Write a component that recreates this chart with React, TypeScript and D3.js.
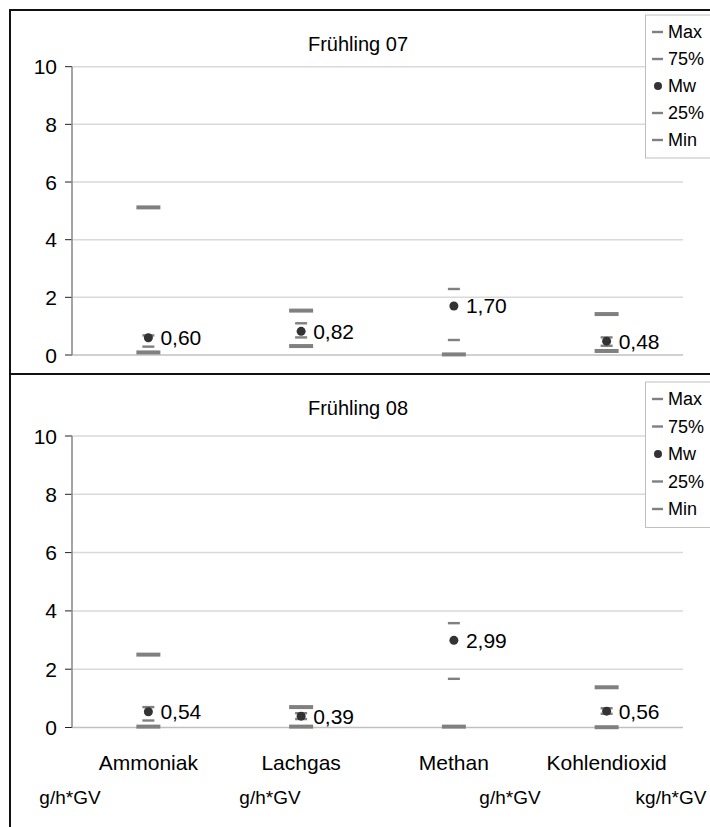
import React from "react";
import * as d3 from "d3";

const categories = ["Ammoniak", "Lachgas", "Methan", "Kohlendioxid"];
const units = ["g/h*GV", "g/h*GV", "g/h*GV", "kg/h*GV"];
const yTicks = [0, 2, 4, 6, 8, 10];
const legendItems = ["Max", "75%", "Mw", "25%", "Min"];

const max07 = [5.12, 1.54, null, 1.42];
const q75_07 = [0.68, 1.1, 2.29, 0.61];
const mw07 = [0.6, 0.82, 1.7, 0.48];
const q25_07 = [0.29, 0.61, 0.52, 0.32];
const min07 = [0.09, 0.31, 0.02, 0.14];

const max08 = [2.5, 0.7, null, 1.38];
const q75_08 = [0.7, 0.49, 3.58, 0.66];
const mw08 = [0.54, 0.39, 2.99, 0.56];
const q25_08 = [0.24, 0.29, 1.67, 0.47];
const min08 = [0.03, 0.03, 0.03, 0.01];

const FONT = "'Liberation Sans', Arial, sans-serif";

type PanelProps = {
  title: string;
  top: number;
  zero: number;
  titleY: number;
  legendTop: number;
  legendStep: number;
  maxV: (number | null)[];
  q75: (number | null)[];
  mw: (number | null)[];
  q25: (number | null)[];
  minV: (number | null)[];
};

function Panel(p: PanelProps) {
  const x = d3.scaleBand<string>().domain(categories).range([72, 683]).padding(0);
  const y = d3.scaleLinear().domain([0, 10]).range([p.zero, p.top]);
  const cx = (c: string) => (x(c) as number) + x.bandwidth() / 2;
  const thick = (vals: (number | null)[], key: string) =>
    vals.map((v, i) =>
      v == null ? null : (
        <rect key={key + i} x={cx(categories[i]) - 12} y={y(v) - 2} width={24} height={4} fill="#808080" />
      )
    );
  const thin = (vals: (number | null)[], key: string) =>
    vals.map((v, i) =>
      v == null ? null : (
        <rect key={key + i} x={cx(categories[i]) - 6} y={y(v) - 1.2} width={12} height={2.4} fill="#808080" />
      )
    );
  return (
    <g>
      <text x={358} y={p.titleY} textAnchor="middle" dominantBaseline="central" fontSize={20} fontFamily={FONT} fill="#000">
        {p.title}
      </text>
      {yTicks.map((t) => (
        <g key={t}>
          {t > 0 && <line x1={72} x2={683} y1={y(t)} y2={y(t)} stroke="#d9d9d9" strokeWidth={1.5} />}
          <line x1={65} x2={72} y1={y(t)} y2={y(t)} stroke="#222" strokeWidth={1} />
          <text x={57} y={y(t)} textAnchor="end" dominantBaseline="central" fontSize={21} fontFamily={FONT} fill="#000">
            {t}
          </text>
        </g>
      ))}
      <line x1={72} x2={683} y1={y(0)} y2={y(0)} stroke="#c0c0c0" strokeWidth={1.5} />
      <line x1={72} x2={72} y1={y(10)} y2={y(0)} stroke="#868686" strokeWidth={1.5} />
      {thick(p.maxV, "max")}
      {thin(p.q75, "q75")}
      {thin(p.q25, "q25")}
      {thick(p.minV, "min")}
      {p.mw.map((v, i) =>
        v == null ? null : (
          <g key={"mw" + i}>
            <circle cx={cx(categories[i])} cy={y(v)} r={4.5} fill="#333333" />
            <text x={cx(categories[i]) + 12} y={y(v)} dominantBaseline="central" fontSize={21} fontFamily={FONT} fill="#000">
              {v.toFixed(2).replace(".", ",")}
            </text>
          </g>
        )
      )}
      <rect x={645.5} y={p.legendTop} width={80} height={p.legendStep * 5 + 8} fill="#fff" stroke="#bfbfbf" strokeWidth={1} />
      {legendItems.map((l, i) => {
        const ly = p.legendTop + 17 + i * p.legendStep;
        return (
          <g key={l}>
            {l === "Mw" ? (
              <circle cx={658} cy={ly} r={4} fill="#333333" />
            ) : (
              <rect x={652} y={ly - 1.2} width={11} height={2.4} fill="#808080" />
            )}
            <text x={668} y={ly} dominantBaseline="central" fontSize={18} fontFamily={FONT} fill="#000">
              {l}
            </text>
          </g>
        );
      })}
    </g>
  );
}

export default function App() {
  const x = d3.scaleBand<string>().domain(categories).range([72, 683]).padding(0);
  const unitX = [70, 270, 510, 671];
  return (
    <div style={{ position: "absolute", left: 0, top: 0 }}>
      <svg width={710} height={827} style={{ display: "block", background: "#fff" }}>
        <rect x={0} y={0} width={710} height={827} fill="#fff" />
        <Panel
          title="Frühling 07"
          top={66.7}
          zero={355}
          titleY={44}
          legendTop={15}
          legendStep={27}
          maxV={max07}
          q75={q75_07}
          mw={mw07}
          q25={q25_07}
          minV={min07}
        />
        <Panel
          title="Frühling 08"
          top={436}
          zero={727.5}
          titleY={408}
          legendTop={382}
          legendStep={27.5}
          maxV={max08}
          q75={q75_08}
          mw={mw08}
          q25={q25_08}
          minV={min08}
        />
        {categories.map((c) => (
          <text key={c} x={(x(c) as number) + x.bandwidth() / 2} y={762} textAnchor="middle" dominantBaseline="central" fontSize={21} fontFamily={FONT} fill="#000">
            {c}
          </text>
        ))}
        {units.map((u, i) => (
          <text key={i} x={unitX[i]} y={797} textAnchor="middle" dominantBaseline="central" fontSize={19} fontFamily={FONT} fill="#000">
            {u}
          </text>
        ))}
        <rect x={10} y={10} width={720} height={364} fill="none" stroke="#111" strokeWidth={2} />
        <rect x={10} y={374} width={720} height={500} fill="none" stroke="#111" strokeWidth={2} />
      </svg>
    </div>
  );
}
